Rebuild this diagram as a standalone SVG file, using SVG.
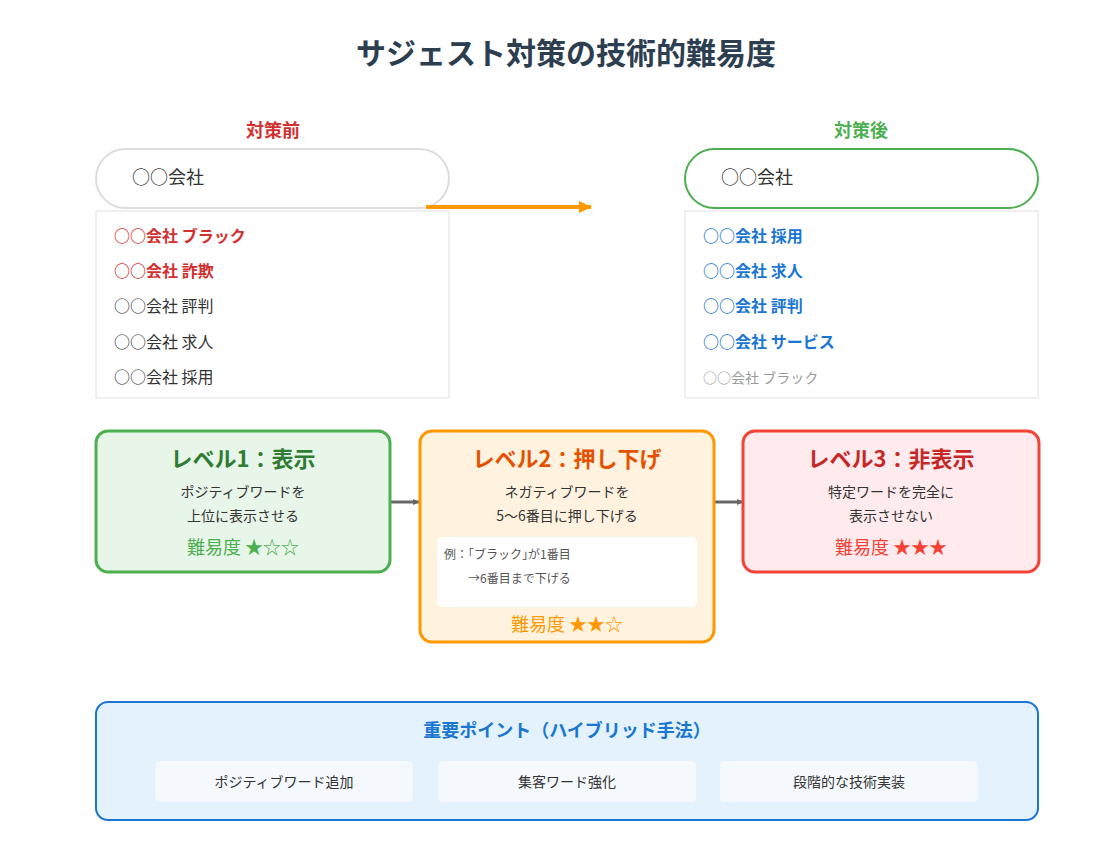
<svg xmlns="http://www.w3.org/2000/svg" width="1093" height="867" viewBox="0 0 1093 867">
<style>
text{font-family:"Noto Sans CJK JP","Noto Sans",sans-serif}
.t{font-size:16px;fill:#333}
.r{font-size:16px;font-weight:bold;fill:#d32f2f}
.bl{font-size:16px;font-weight:bold;fill:#1976d2}
.b{font-weight:bold}
.sm{font-size:14px;fill:#333;text-anchor:middle}
.c{text-anchor:middle}
</style>
<defs>
<marker id="ag" markerWidth="8" markerHeight="8" refX="6" refY="4" orient="auto" markerUnits="userSpaceOnUse"><path d="M0,1 L7,4 L0,7Z" fill="#666"/></marker>
<marker id="ao" markerWidth="14" markerHeight="12" refX="12" refY="6" orient="auto" markerUnits="userSpaceOnUse"><path d="M0,0 L13,6 L0,12Z" fill="#ff9800"/></marker>
</defs>
<rect width="1093" height="867" fill="#fff"/>
<text x="566" y="64" class="c b" font-size="30" fill="#2c3e50">サジェスト対策の技術的難易度</text>

<g id="before">
<text x="273" y="137" class="c b" font-size="18" fill="#d32f2f">対策前</text>
<rect x="96" y="149" width="353" height="59" rx="29.5" fill="#fff" stroke="#ddd" stroke-width="2"/>
<text x="132" y="184" font-size="18" fill="#333">○○会社</text>
<rect x="96" y="211" width="353" height="187" fill="#fff" stroke="#e0e0e0"/>
<text x="114" y="242" class="r">○○会社 ブラック</text>
<text x="114" y="277" class="r">○○会社 詐欺</text>
<text x="114" y="312" class="t">○○会社 評判</text>
<text x="114" y="348" class="t">○○会社 求人</text>
<text x="114" y="383" class="t">○○会社 採用</text>
</g>
<g id="after">
<text x="861" y="137" class="c b" font-size="18" fill="#4caf50">対策後</text>
<rect x="685" y="149" width="353" height="59" rx="29.5" fill="#fff" stroke="#4caf50" stroke-width="2"/>
<text x="721" y="184" font-size="18" fill="#333">○○会社</text>
<rect x="685" y="211" width="353" height="187" fill="#fff" stroke="#e0e0e0"/>
<text x="703" y="242" class="bl">○○会社 採用</text>
<text x="703" y="277" class="bl">○○会社 求人</text>
<text x="703" y="312" class="bl">○○会社 評判</text>
<text x="703" y="348" class="bl">○○会社 サービス</text>
<text x="703" y="383" font-size="14" fill="#999">○○会社 ブラック</text>
</g>

<g id="connectors">
<line x1="426" y1="207" x2="591" y2="207" stroke="#ff9800" stroke-width="4" marker-end="url(#ao)"/>
<line x1="390" y1="502" x2="419" y2="502" stroke="#666" stroke-width="3" marker-end="url(#ag)"/>
<line x1="714" y1="502" x2="743" y2="502" stroke="#666" stroke-width="3" marker-end="url(#ag)"/>
</g>

<g id="level1">
<rect x="96" y="431" width="294" height="141" rx="12" fill="#e8f5e9" stroke="#4caf50" stroke-width="3"/>
<text x="243" y="467" class="c b" font-size="22" fill="#2e7d32">レベル1：表示</text>
<text x="243" y="497" class="sm">ポジティブワードを</text>
<text x="243" y="521" class="sm">上位に表示させる</text>
<text x="243" y="554" class="c" font-size="18" fill="#4caf50">難易度 ★☆☆</text>
</g>
<g id="level2">
<rect x="420" y="431" width="294" height="211" rx="12" fill="#fff3e0" stroke="#ff9800" stroke-width="3"/>
<text x="567" y="467" class="c b" font-size="22" fill="#e65100">レベル2：押し下げ</text>
<text x="567" y="497" class="sm">ネガティブワードを</text>
<text x="567" y="521" class="sm">5〜6番目に押し下げる</text>
<rect x="437" y="537" width="260" height="70" rx="5" fill="#fff"/>
<text x="444" y="559" font-size="12" fill="#555">例：｢ブラック｣が1番目</text>
<text x="468" y="583" font-size="12" fill="#555">→6番目まで下げる</text>
<text x="567" y="631" class="c" font-size="18" fill="#ff9800">難易度 ★★☆</text>
</g>
<g id="level3">
<rect x="743" y="431" width="296" height="141" rx="12" fill="#ffebee" stroke="#f44336" stroke-width="3"/>
<text x="891" y="467" class="c b" font-size="22" fill="#c62828">レベル3：非表示</text>
<text x="891" y="497" class="sm">特定ワードを完全に</text>
<text x="891" y="521" class="sm">表示させない</text>
<text x="891" y="554" class="c" font-size="18" fill="#f44336">難易度 ★★★</text>
</g>

<g id="points">
<rect x="96" y="702" width="942" height="118" rx="12" fill="#e3f2fd" stroke="#1976d2" stroke-width="2"/>
<text x="567" y="737" class="c b" font-size="18" fill="#1976d2">重要ポイント（ハイブリッド手法）</text>
<rect x="155" y="761" width="258" height="41" rx="5" fill="#f5f9fd"/>
<text x="284" y="787" class="sm">ポジティブワード追加</text>
<rect x="438" y="761" width="258" height="41" rx="5" fill="#f5f9fd"/>
<text x="567" y="787" class="sm">集客ワード強化</text>
<rect x="720" y="761" width="258" height="41" rx="5" fill="#f5f9fd"/>
<text x="849" y="787" class="sm">段階的な技術実装</text>
</g>
</svg>
